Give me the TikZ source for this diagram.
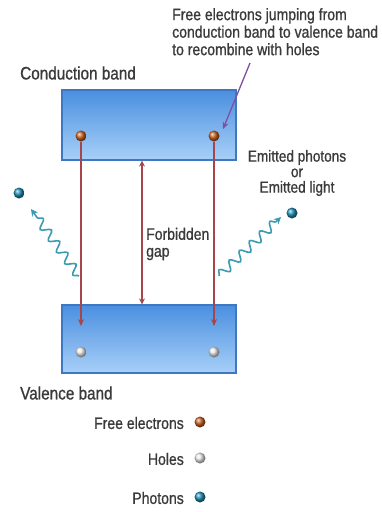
\documentclass[tikz,border=0pt]{standalone}
\usepackage{fontspec}
\setmainfont[FakeStretch=0.85,FakeBold=0.9]{Liberation Sans}
\usetikzlibrary{arrows.meta,decorations.pathmorphing,shadings,calc}
\definecolor{bandtop}{HTML}{4A8FE0}
\definecolor{bandbot}{HTML}{A8D0F8}
\definecolor{bandedge}{HTML}{3F78C0}
\definecolor{redarr}{HTML}{A8454A}
\definecolor{purp}{HTML}{8050A0}
\definecolor{phot}{HTML}{3A9CB0}
\definecolor{txt}{HTML}{3A3A3A}
\definecolor{elec}{HTML}{C8601E}
\definecolor{photb}{HTML}{1E8CB4}
\begin{document}
\begin{tikzpicture}[x=1pt,y=-1pt,
  band/.style={draw=bandedge, line width=1.2pt, top color=bandtop, bottom color=bandbot,
    minimum width=174pt, inner sep=0pt},
  ball/.style={circle, minimum size=11pt, inner sep=0pt},
  electron/.style={ball, ball color=elec},
  hole/.style={ball, ball color=white!85!gray},
  photon/.style={ball, ball color=photb},
  head/.style={text=txt, inner sep=0pt, font=\fontsize{18}{21}\selectfont},
  lbl/.style={text=txt, inner sep=0pt, font=\fontsize{16.5}{17.5}\selectfont},
  redarrow/.style={draw=redarr, line width=1.4pt, -{Stealth[length=7pt,width=6pt]}},
  gaparrow/.style={draw=redarr, line width=1.1pt, {Stealth[length=6pt,width=6pt]}-{Stealth[length=6pt,width=6pt]}},
  wave/.style={draw=phot, line width=1.6pt, decorate,
    decoration={snake, amplitude=4.5pt, segment length=14pt, post length=6pt},
    -{Stealth[length=7pt,width=7pt]}},
  pointer/.style={draw=purp, line width=1.3pt, -{Stealth[length=7pt,width=6pt]}}
]
\useasboundingbox[fill=white] (0,0) rectangle (381,512);

% bands
\node[band, minimum height=70pt] (cb) at (149,125) {};
\node[band, minimum height=68pt] (vb) at (149,339) {};

% particles
\node[electron] (e1) at (81,136) {};
\node[electron] (e2) at (214,136) {};
\node[hole] (h1) at (81,352) {};
\node[hole] (h2) at (214,352) {};

% transitions
\coordinate (t1) at (81,326);
\coordinate (t2) at (214,326);
\draw[redarrow] (e1.south) -- (t1);
\draw[redarrow] (e2.south) -- (t2);

% forbidden gap
\coordinate (gx) at (142,0);
\draw[gaparrow] (gx |- cb.south) -- (gx |- vb.north);
\node[lbl, anchor=west, align=left, font=\fontsize{16.5}{17}\selectfont] (fg) at (146,244) {Forbidden\\gap};

% labels
\node[head, anchor=west] (cbl) at (20,73) {Conduction band};
\node[head, anchor=west] (vbl) at (20,393) {Valence band};
\node[lbl, anchor=north west, align=left] (ann) at (172,8)
  {Free electrons jumping from\\conduction band to valence band\\to recombine with holes};
\coordinate (p) at (250,63);
\draw[pointer] (p) -- ($(e2)+(9,-7)$);

\node[lbl, align=center, font=\fontsize{16}{15.5}\selectfont] (em) at (297,173)
  {Emitted photons\\or\\Emitted light};

% photons
\node[photon] (pl) at (19,193) {};
\node[photon] (pr) at (292,213) {};
\coordinate (wl1) at (79,276);
\coordinate (wl2) at (31,209);
\coordinate (wr1) at (219,276);
\coordinate (wr2) at (281,217);
\draw[wave] (wl1) -- (wl2);
\draw[wave] (wr1) -- (wr2);

% legend
\node[lbl, anchor=east] (lfe) at (184,423) {Free electrons};
\node[electron] (le) at (200,422) {};
\node[lbl, anchor=east] (lho) at (184,459) {Holes};
\node[hole] (lh) at (200,458) {};
\node[lbl, anchor=east] (lph) at (184,498) {Photons};
\node[photon] (lp) at (200,497) {};
\end{tikzpicture}
\end{document}
